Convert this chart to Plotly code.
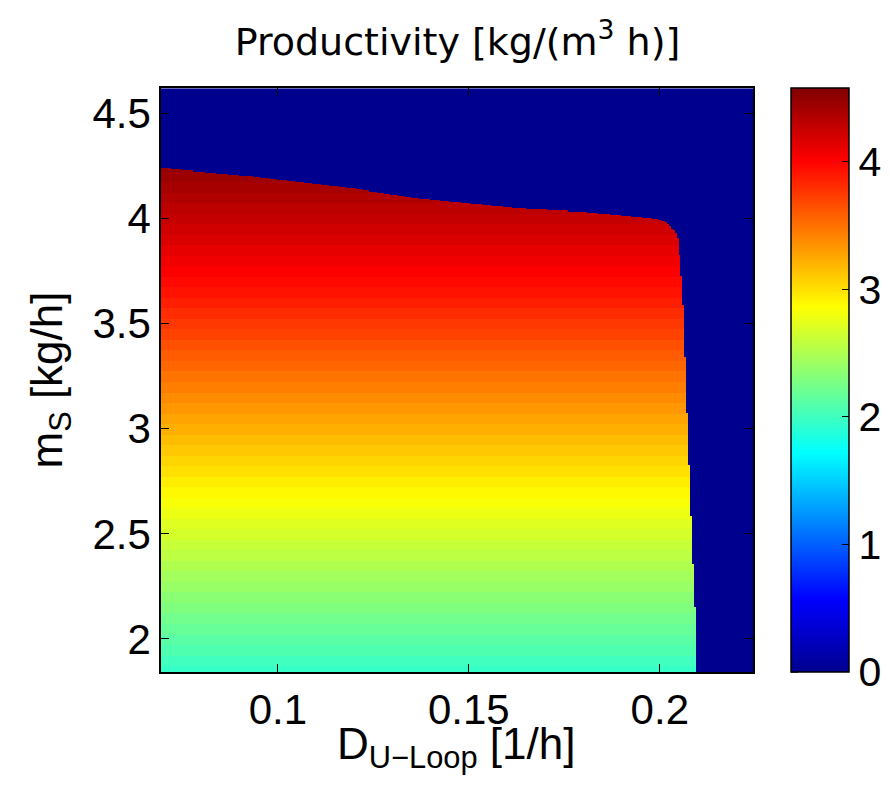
import numpy as np
import plotly.graph_objects as go

# --- data ---
# productivity per m_S row (m_S = 1.85 ... 4.60 step 0.05)
ms_rows = [round(1.85 + 0.05 * i, 2) for i in range(56)]
prod_rows = [1.96, 2.01, 2.07, 2.12, 2.18, 2.23, 2.29, 2.34, 2.40, 2.45,
             2.51, 2.56, 2.61, 2.67, 2.72, 2.78, 2.83, 2.89, 2.94, 3.00,
             3.05, 3.11, 3.16, 3.22, 3.27, 3.33, 3.38, 3.44, 3.49, 3.55,
             3.60, 3.65, 3.71, 3.76, 3.81, 3.87, 3.92, 3.97, 4.02, 4.07,
             4.12, 4.17, 4.22, 4.27, 4.31, 4.36, 4.41, 4.45, 4.49, 4.52,
             4.54, 4.55, 4.56, 4.57, 4.57, 4.58]

# boundary of the productive (non-washout) region
bound_x = [0.0600, 0.0600, 0.0696, 0.0935, 0.1196, 0.1372, 0.1634, 0.1808,
           0.1895, 0.1982, 0.2017, 0.2034, 0.2045, 0.2052, 0.2060, 0.2065,
           0.2073, 0.2080, 0.2087, 0.2093, 0.2096, 0.2096]
bound_y = [1.70, 4.239, 4.239, 4.200, 4.142, 4.095, 4.047, 4.031,
           4.016, 4.000, 3.984, 3.944, 3.930, 3.820, 3.660, 3.420,
           3.000, 2.655, 2.336, 2.090, 1.840, 1.70]

x_range = [0.0694, 0.2244]
y_range = [1.843, 4.62]
x_ticks = [0.1, 0.15, 0.2]
x_ticktext = ['0.1', '0.15', '0.2']
y_ticks = [2, 2.5, 3, 3.5, 4, 4.5]
y_ticktext = ['2', '2.5', '3', '3.5', '4', '4.5']
c_ticks = [0, 1, 2, 3, 4]
z_max = 4.58

# --- build the map grid ---
xc = np.arange(x_range[0] + 0.00025, x_range[1], 0.0005)
yc = np.arange(y_range[0] + 0.0025, y_range[1], 0.005)
X, Y = np.meshgrid(xc, yc)

px = np.array(bound_x)
py = np.array(bound_y)
inside = np.zeros(X.shape, dtype=bool)
n = len(px)
j = n - 1
for i in range(n):
    xi, yi, xj, yj = px[i], py[i], px[j], py[j]
    cond = ((yi > Y) != (yj > Y))
    with np.errstate(divide='ignore', invalid='ignore'):
        xint = (xj - xi) * (Y - yi) / (yj - yi) + xi
    inside ^= cond & (X < xint)
    j = i

row_idx = np.clip(np.round((yc - ms_rows[0]) / 0.05).astype(int), 0, len(prod_rows) - 1)
row_val = np.array(prod_rows)[row_idx]
Z = np.where(inside, row_val[:, None], 0.0)

jet = [[0.0, 'rgb(0,0,143)'], [0.125, 'rgb(0,0,255)'], [0.375, 'rgb(0,255,255)'],
       [0.625, 'rgb(255,255,0)'], [0.875, 'rgb(255,0,0)'], [1.0, 'rgb(128,0,0)']]

font_family = "Liberation Sans, Arial, Helvetica, sans-serif"
title_family = "DejaVu Sans, Liberation Sans, sans-serif"

W, H = 882, 781
L, R, T, B = 153, 137, 80, 117
plot_w = W - L - R
plot_h = H - T - B
cb_left = (791 - 161) / plot_w
cb_thick = 58

fig = go.Figure(go.Heatmap(
    x=xc, y=yc, z=np.round(Z, 3), colorscale=jet, zmin=0, zmax=z_max,
    zsmooth=False, hoverinfo='skip',
    colorbar=dict(
        x=cb_left, xanchor='left', xpad=0,
        y=0.5, yanchor='middle', len=1.0, lenmode='fraction', ypad=0,
        thickness=cb_thick, outlinewidth=1.5, outlinecolor='black',
        tickvals=c_ticks, ticks='inside', ticklen=7, tickcolor='black',
        tickfont=dict(size=41, color='black', family=font_family),
    ),
))

# tick marks on the left inner edge of the colour bar (MATLAB style)
for v in c_ticks:
    fig.add_shape(type='line', xref='paper', yref='paper',
                  x0=cb_left, x1=cb_left + 7 / plot_w,
                  y0=v / z_max, y1=v / z_max,
                  line=dict(color='black', width=1.2))

axis_common = dict(
    showline=True, linecolor='black', linewidth=1.5, mirror='ticks',
    ticks='inside', ticklen=8, tickcolor='black', tickwidth=1.2,
    showgrid=False, zeroline=False, ticklabelstandoff=0,
    tickfont=dict(size=42, color='black', family=font_family),
)

fig.add_annotation(
    text="D<sub>U\u2212Loop</sub> [1/h]", xref='paper', yref='paper',
    x=(456 - 161) / plot_w, y=-(717 - 672) / plot_h,
    xanchor='center', yanchor='top', showarrow=False,
    font=dict(size=44, color='black', family=font_family))

fig.update_layout(
    width=W, height=H,
    margin=dict(l=L, r=R, t=T, b=B, autoexpand=False),
    paper_bgcolor='white', plot_bgcolor='white',
    title=dict(text="Productivity [kg/(m<sup>3</sup> h)]", x=(457.5 - 8) / W,
               xanchor='center', y=1 - 34 / H, yanchor='middle',
               font=dict(size=38, color='black', family=title_family)),
    xaxis=dict(range=x_range, tickvals=x_ticks, ticktext=x_ticktext,
               **axis_common),
    yaxis=dict(range=y_range, tickvals=y_ticks, ticktext=y_ticktext,
               title=dict(text="m<sub>S</sub> [kg/h]",
                          font=dict(size=44, color='black', family=font_family),
                          standoff=16),
               **axis_common),
)

fig.write_html("out.html")
